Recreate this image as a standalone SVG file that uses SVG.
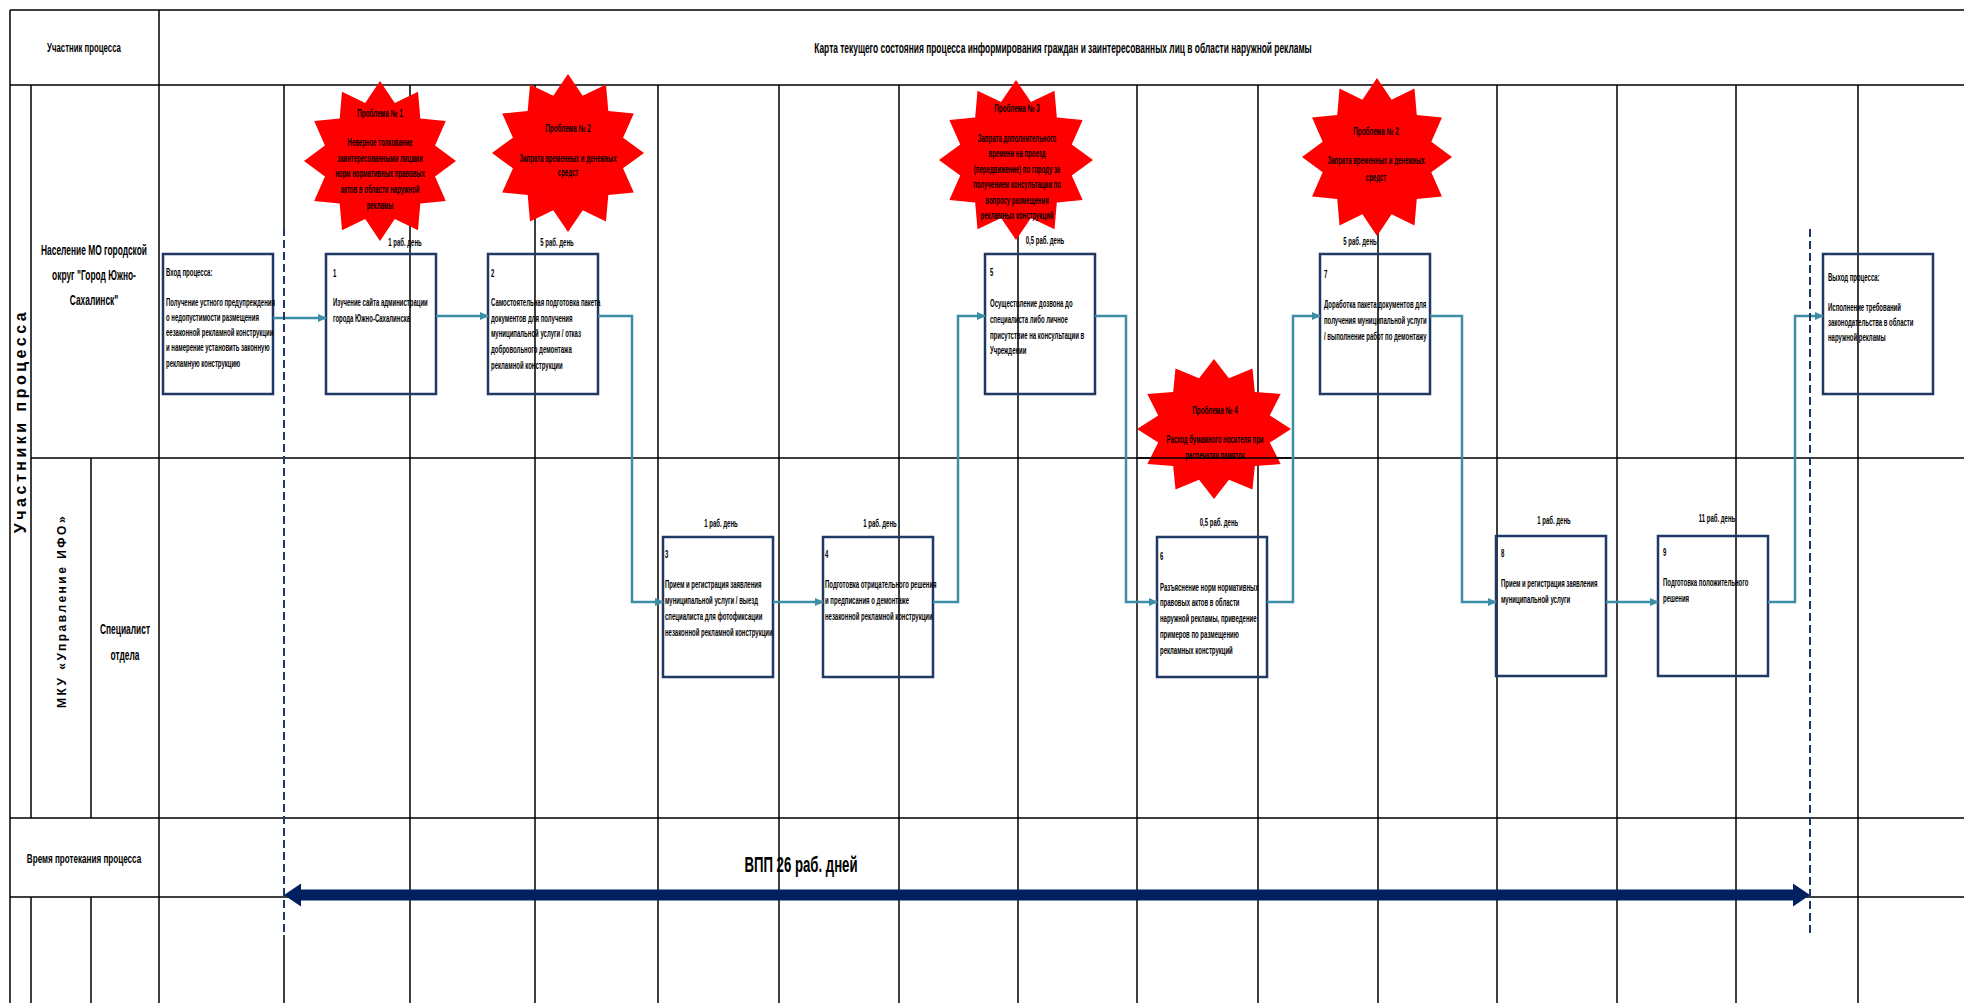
<svg xmlns="http://www.w3.org/2000/svg" xmlns:xlink="http://www.w3.org/1999/xlink" width="1964" height="1003" viewBox="0 0 1964 1003">
<style>
.g{stroke:#000;stroke-width:1.5;fill:none}
.box{fill:none;stroke:#203864;stroke-width:2.5}
.con{fill:none;stroke:#3b8ea5;stroke-width:2.5}
.dash{stroke:#1f3864;stroke-width:2;stroke-dasharray:8 4;fill:none}
.t{font-family:"Liberation Sans",Arial,sans-serif;font-weight:bold;font-size:10px;fill:#000}
.c{text-anchor:middle}
.l{font-size:14px}
.s{fill:#ff0000;stroke:none}
</style>
<defs>
<marker id="ah" markerUnits="userSpaceOnUse" markerWidth="9" markerHeight="8" refX="8" refY="4" orient="auto">
<path d="M0,0 L9,4 L0,8 z" fill="#3b8ea5"/>
</marker>
<polygon id="star12" points="0,-1 0.1941,-0.7244 0.5,-0.866 0.5303,-0.5303 0.866,-0.5 0.7244,-0.1941 1,0 0.7244,0.1941 0.866,0.5 0.5303,0.5303 0.5,0.866 0.1941,0.7244 0,1 -0.1941,0.7244 -0.5,0.866 -0.5303,0.5303 -0.866,0.5 -0.7244,0.1941 -1,0 -0.7244,-0.1941 -0.866,-0.5 -0.5303,-0.5303 -0.5,-0.866 -0.1941,-0.7244"/>
</defs>
<rect width="1964" height="1003" fill="#fff"/>

<g id="grid" class="g">
<path d="M10,10H1964M10,85H1964M31,458H1964M10,818H1964M10,897H1964"/>
<path d="M10,10V1003M31,85V818M31,897V1003M91,458V818M91,897V1003M159,10V1003M284,85V228M284,935V1003"/>
<path d="M410,85V1003M535,85V1003M658,85V1003M779,85V1003M899,85V1003M1018,85V1003M1137,85V1003M1258,85V1003M1378,85V1003M1497,85V1003M1617,85V1003M1736,85V1003M1858,85V1003"/>
</g>

<g id="labels">
<g transform="translate(84 0) scale(0.6 1)"><text class="t c" style="font-size:13px" x="0" y="52.5">Участник процесса</text></g>
<g transform="translate(1063 0) scale(0.6 1)"><text class="t c l" x="0" y="53">Карта текущего состояния процесса информирования граждан и заинтересованных лиц в области наружной рекламы</text></g>
<text class="t c" style="font-size:16px;letter-spacing:3.5px" transform="translate(26 421) rotate(-90)">Участники процесса</text>
<g transform="translate(94 0) scale(0.6 1)">
<text class="t c l" x="0" y="255">Население МО городской</text>
<text class="t c l" x="0" y="280">округ "Город Южно-</text>
<text class="t c l" x="0" y="305">Сахалинск"</text>
</g>
<text class="t c" style="font-size:12px;letter-spacing:2.5px" transform="translate(66 611) rotate(-90)">МКУ  «Управление ИФО»</text>
<g transform="translate(125 0) scale(0.6 1)">
<text class="t c l" x="0" y="634">Специалист</text>
<text class="t c l" x="0" y="660">отдела</text>
</g>
<g transform="translate(84 0) scale(0.6 1)"><text class="t c" style="font-size:13.5px" x="0" y="863">Время протекания процесса</text></g>
<g transform="translate(801 0) scale(0.6 1)"><text class="t c" style="font-size:22px" x="0" y="872">ВПП 26 раб. дней</text></g>
</g>

<g id="durations">
<g transform="translate(405 0) scale(0.6 1)"><text class="t c" x="0" y="246.5">1 раб. день</text></g>
<g transform="translate(557 0) scale(0.6 1)"><text class="t c" x="0" y="246.5">5 раб. день</text></g>
<g transform="translate(1045 0) scale(0.6 1)"><text class="t c" x="0" y="244.5">0,5 раб. день</text></g>
<g transform="translate(1360 0) scale(0.6 1)"><text class="t c" x="0" y="245.5">5 раб. день</text></g>
<g transform="translate(721 0) scale(0.6 1)"><text class="t c" x="0" y="527.5">1 раб. день</text></g>
<g transform="translate(880 0) scale(0.6 1)"><text class="t c" x="0" y="527.5">1 раб. день</text></g>
<g transform="translate(1219 0) scale(0.6 1)"><text class="t c" x="0" y="526.5">0,5 раб. день</text></g>
<g transform="translate(1554 0) scale(0.6 1)"><text class="t c" x="0" y="524.5">1 раб. день</text></g>
<g transform="translate(1717 0) scale(0.6 1)"><text class="t c" x="0" y="522.5">11 раб. день</text></g>
</g>

<g id="node-in">
<rect class="box" x="163" y="254" width="110" height="140"/>
<g transform="translate(166 0) scale(0.6 1)">
<text class="t" x="0" y="276">Вход процесса:</text>
<text class="t" x="0" y="306">Получение устного предупреждения</text>
<text class="t" x="0" y="321">о недопустимости размещения</text>
<text class="t" x="0" y="336">еезаконной рекламной конструкции</text>
<text class="t" x="0" y="351">и намерение установить законную</text>
<text class="t" x="0" y="367">рекламную конструкцию</text>
</g>
</g>

<g id="node-1">
<rect class="box" x="326" y="254" width="110" height="140"/>
<g transform="translate(333 0) scale(0.6 1)">
<text class="t" x="0" y="277">1</text>
<text class="t" x="0" y="306">Изучение сайта администрации</text>
<text class="t" x="0" y="322">города Южно-Сахалинска</text>
</g>
</g>

<g id="node-2">
<rect class="box" x="488" y="254" width="110" height="140"/>
<g transform="translate(491 0) scale(0.6 1)">
<text class="t" x="0" y="277">2</text>
<text class="t" x="0" y="306">Самостоятельная подготовка пакета</text>
<text class="t" x="0" y="322">документов для получения</text>
<text class="t" x="0" y="337">муниципальной услуги / отказ</text>
<text class="t" x="0" y="353">добровольного демонтажа</text>
<text class="t" x="0" y="369">рекламной конструкции</text>
</g>
</g>

<g id="node-3">
<rect class="box" x="663" y="537" width="110" height="140"/>
<g transform="translate(665 0) scale(0.6 1)">
<text class="t" x="0" y="558">3</text>
<text class="t" x="0" y="588">Прием и регистрация заявления</text>
<text class="t" x="0" y="604">муниципальной услуги /  выезд</text>
<text class="t" x="0" y="620">специалиста для фотофиксации</text>
<text class="t" x="0" y="636">незаконной рекламной конструкции</text>
</g>
</g>

<g id="node-4">
<rect class="box" x="823" y="537" width="110" height="140"/>
<g transform="translate(825 0) scale(0.6 1)">
<text class="t" x="0" y="558">4</text>
<text class="t" x="0" y="588">Подготовка отрицательного решения</text>
<text class="t" x="0" y="604">и предписания о демонтаже</text>
<text class="t" x="0" y="620">незаконной рекламной конструкции</text>
</g>
</g>

<g id="node-5">
<rect class="box" x="985" y="254" width="110" height="140"/>
<g transform="translate(990 0) scale(0.6 1)">
<text class="t" x="0" y="276">5</text>
<text class="t" x="0" y="307">Осуществление дозвона до</text>
<text class="t" x="0" y="323">специалиста либо личное</text>
<text class="t" x="0" y="339">присутствие на консультации в</text>
<text class="t" x="0" y="354">Учреждении</text>
</g>
</g>

<g id="node-6">
<rect class="box" x="1157" y="537" width="110" height="140"/>
<g transform="translate(1160 0) scale(0.6 1)">
<text class="t" x="0" y="560">6</text>
<text class="t" x="0" y="591">Разъяснение норм нормативных</text>
<text class="t" x="0" y="606">правовых актов в области</text>
<text class="t" x="0" y="622">наружной рекламы, приведение</text>
<text class="t" x="0" y="638">примеров по размещению</text>
<text class="t" x="0" y="654">рекламных конструкций</text>
</g>
</g>

<g id="node-7">
<rect class="box" x="1320" y="254" width="110" height="140"/>
<g transform="translate(1324 0) scale(0.6 1)">
<text class="t" x="0" y="278">7</text>
<text class="t" x="0" y="308">Доработка пакета документов для</text>
<text class="t" x="0" y="324">получения муниципальной услуги</text>
<text class="t" x="0" y="340">/ выполнение работ по демонтажу</text>
</g>
</g>

<g id="node-8">
<rect class="box" x="1496" y="536" width="110" height="140"/>
<g transform="translate(1501 0) scale(0.6 1)">
<text class="t" x="0" y="557">8</text>
<text class="t" x="0" y="587">Прием и регистрация заявления</text>
<text class="t" x="0" y="603">муниципальной услуги</text>
</g>
</g>

<g id="node-9">
<rect class="box" x="1658" y="536" width="110" height="140"/>
<g transform="translate(1663 0) scale(0.6 1)">
<text class="t" x="0" y="556">9</text>
<text class="t" x="0" y="586">Подготовка положительного</text>
<text class="t" x="0" y="602">решения</text>
</g>
</g>

<g id="node-out">
<rect class="box" x="1823" y="254" width="110" height="140"/>
<g transform="translate(1828 0) scale(0.6 1)">
<text class="t" x="0" y="281">Выход процесса:</text>
<text class="t" x="0" y="311">Исполнение требований</text>
<text class="t" x="0" y="326">законодательства в области</text>
<text class="t" x="0" y="341">наружной рекламы</text>
</g>
</g>

<g id="connectors">
<path class="con" marker-end="url(#ah)" d="M273,318H326"/>
<path class="con" marker-end="url(#ah)" d="M436,316H488"/>
<path class="con" marker-end="url(#ah)" d="M598,316H632V602H663"/>
<path class="con" marker-end="url(#ah)" d="M773,602H823"/>
<path class="con" marker-end="url(#ah)" d="M933,602H958V316H985"/>
<path class="con" marker-end="url(#ah)" d="M1095,316H1126V602H1157"/>
<path class="con" marker-end="url(#ah)" d="M1267,602H1293V316H1320"/>
<path class="con" marker-end="url(#ah)" d="M1430,316H1462V602H1496"/>
<path class="con" marker-end="url(#ah)" d="M1606,602H1658"/>
<path class="con" marker-end="url(#ah)" d="M1768,602H1795V316H1823"/>
<path class="dash" d="M284,228V935"/>
<path class="dash" d="M1810,229V935"/>
<polygon fill="#002060" points="284,895 301,883.5 301,889.5 1793,889.5 1793,883.5 1810,895 1793,906.5 1793,900.5 301,900.5 301,906.5"/>
</g>

<g id="problem-1">
<use xlink:href="#star12" class="s" transform="translate(380 161) scale(76 80)"/>
<g transform="translate(380 0) scale(0.6 1)">
<text class="t c" style="font-size:10.5px" x="0" y="117.5">Проблема № 1</text>
<text class="t c" x="0" y="146.5">Неверное толкование</text>
<text class="t c" x="0" y="162.5">заинтересованными лицами</text>
<text class="t c" x="0" y="177.5">норм нормативных правовых</text>
<text class="t c" x="0" y="193.5">актов в области наружной</text>
<text class="t c" x="0" y="209.5">рекламы</text>
</g>
</g>

<g id="problem-2a">
<use xlink:href="#star12" class="s" transform="translate(568 153) scale(76 79)"/>
<g transform="translate(568 0) scale(0.6 1)">
<text class="t c" style="font-size:10.5px" x="0" y="132.5">Проблема № 2</text>
<text class="t c" x="0" y="162.5">Запрата временных и денежных</text>
<text class="t c" x="0" y="176.5">средст</text>
</g>
</g>

<g id="problem-3">
<use xlink:href="#star12" class="s" transform="translate(1016 160) scale(77 80)"/>
<g transform="translate(1017 0) scale(0.6 1)">
<text class="t c" style="font-size:10.5px" x="0" y="112.5">Проблема № 3</text>
<text class="t c" x="0" y="142.5">Запрата дополнительного</text>
<text class="t c" x="0" y="157.5">времени на проезд</text>
<text class="t c" x="0" y="173.5">(передвижение) по городу за</text>
<text class="t c" x="0" y="188.5">получением консультации по</text>
<text class="t c" x="0" y="204.5">вопросу размещения</text>
<text class="t c" x="0" y="219.5">рекламных конструкций</text>
</g>
</g>

<g id="problem-2b">
<use xlink:href="#star12" class="s" transform="translate(1377 157) scale(75 79)"/>
<g transform="translate(1376 0) scale(0.6 1)">
<text class="t c" style="font-size:10.5px" x="0" y="135.5">Проблема № 2</text>
<text class="t c" x="0" y="164.5">Запрата временных и денежных</text>
<text class="t c" x="0" y="181">средст</text>
</g>
</g>

<g id="problem-4">
<use xlink:href="#star12" class="s" transform="translate(1214 429) scale(77 70)"/>
<g transform="translate(1215 0) scale(0.6 1)">
<text class="t c" style="font-size:10.5px" x="0" y="414.5">Проблема №  4</text>
<text class="t c" x="0" y="443.5">Расход бумажного носителя при</text>
<text class="t c" x="0" y="459.5">распечатки памяток</text>
</g>
<path class="g" d="M1137,458H1291"/>
</g>
</svg>
